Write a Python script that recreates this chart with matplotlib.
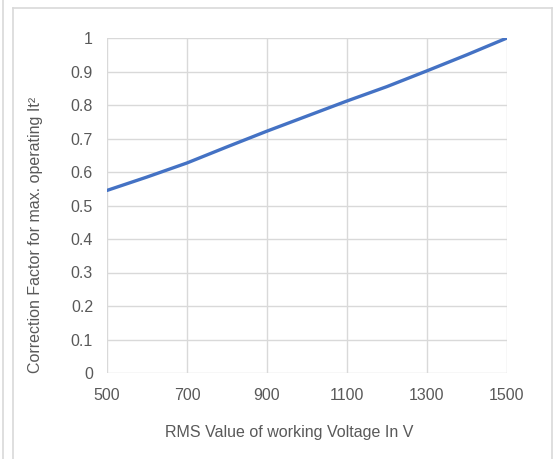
import matplotlib
matplotlib.use("Agg")
import matplotlib.pyplot as plt
from matplotlib.lines import Line2D

voltage = [500, 600, 700, 800, 900, 1000, 1100, 1200, 1300, 1400, 1500]
factor = [0.545, 0.585, 0.627, 0.675, 0.722, 0.767, 0.812, 0.855, 0.902, 0.950, 1.0]
xticks = [500, 700, 900, 1100, 1300, 1500]
yticks = [0, 0.1, 0.2, 0.3, 0.4, 0.5, 0.6, 0.7, 0.8, 0.9, 1]
ytick_labels = ["0", "0.1", "0.2", "0.3", "0.4", "0.5", "0.6", "0.7", "0.8", "0.9", "1"]

plt.rcParams['font.family'] = ['Liberation Sans', 'DejaVu Sans']

W, H = 555, 459
fig = plt.figure(figsize=(W / 100, H / 100), dpi=100)
fig.patch.set_facecolor('white')

# Frame lines
frame_c = '#d9d9d9'
def fx(px): return px / W
def fy(py): return 1 - py / H
fig.add_artist(Line2D([fx(2.5), fx(2.5)], [fy(0), fy(459)], color=frame_c, lw=1.2))
fig.add_artist(Line2D([fx(13), fx(13)], [fy(8), fy(459)], color=frame_c, lw=1.2))
fig.add_artist(Line2D([fx(13), fx(552)], [fy(8), fy(8)], color=frame_c, lw=1.2))
fig.add_artist(Line2D([fx(552), fx(552)], [fy(8), fy(459)], color=frame_c, lw=1.2))

ax = fig.add_axes([107 / W, 1 - 373 / H, 400 / W, 335 / H])
ax.plot(voltage, factor, color='#4472C4', lw=2.4, solid_capstyle='round', zorder=3)
ax.set_xlim(500, 1500)
ax.set_ylim(0, 1)
ax.set_xticks(xticks)
ax.set_xticklabels([str(v) for v in xticks])
ax.set_yticks(yticks)
ax.set_yticklabels(ytick_labels)
ax.grid(True, color='#d9d9d9', lw=1.0)
for s in ax.spines.values():
    s.set_visible(False)
ax.tick_params(length=0, labelsize=11.5, labelcolor='#595959')
ax.tick_params(axis='x', pad=10.5)
ax.tick_params(axis='y', pad=10)
ax.set_xlabel('RMS Value of working Voltage In V', fontsize=11.5, color='#595959',
              ha='center', va='center')
ax.set_ylabel('Correction Factor for max. operating It²', fontsize=11.5, color='#595959',
              ha='center', va='center')
ax.xaxis.set_label_coords((289 - 107) / 400, (373 - 433) / 335)
ax.yaxis.set_label_coords((36 - 107) / 400, (373 - 235) / 335)

fig.savefig('out.png', dpi=100)
